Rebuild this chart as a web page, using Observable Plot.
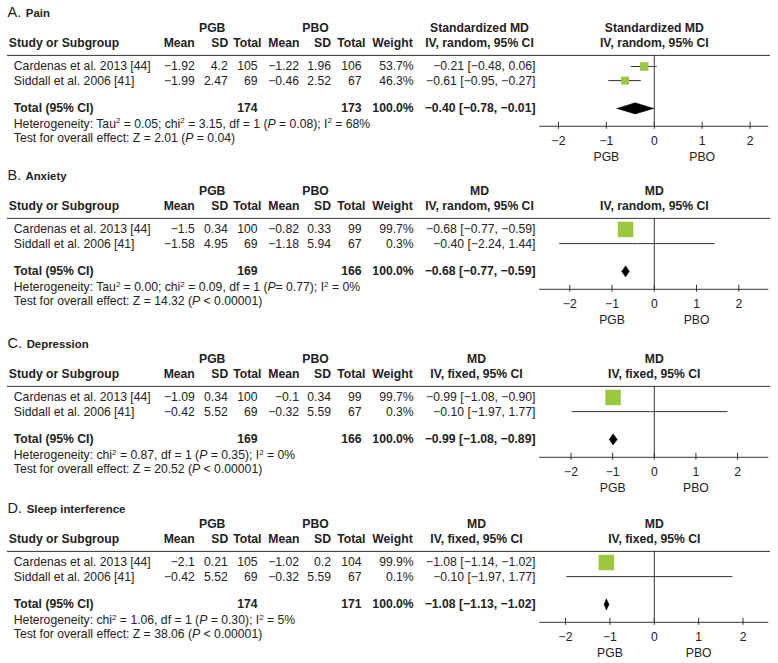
<!DOCTYPE html>
<html><head><meta charset="utf-8">
<script src="https://cdn.jsdelivr.net/npm/d3@7"></script>
<script src="https://cdn.jsdelivr.net/npm/@observablehq/plot@0.6"></script>
<style>
body{margin:0;background:#fff;}
#chart{width:778px;}
#chart svg{display:block;overflow:visible;}
</style></head><body><div id="chart"></div>
<script>
// ---------- data ----------
const titles = ["{A.} Pain", "{B.} Anxiety", "{C.} Depression", "{D.} Sleep interference"];
const measures = ["Standardized MD", "MD", "MD", "MD"];
const methods = ["IV, random, 95% CI", "IV, random, 95% CI", "IV, fixed, 95% CI", "IV, fixed, 95% CI"];
const studies = ["Cardenas et al. 2013 [44]", "Siddall et al. 2006 [41]"];
const pgbMean = [[-1.92, -1.99], [-1.5, -1.58], [-1.09, -0.42], [-2.1, -0.42]];
const pgbSD   = [[4.2, 2.47], [0.34, 4.95], [0.34, 5.52], [0.21, 5.52]];
const pgbN    = [[105, 69], [100, 69], [100, 69], [105, 69]];
const pboMean = [[-1.22, -0.46], [-0.82, -1.18], [-0.1, -0.32], [-1.02, -0.32]];
const pboSD   = [[1.96, 2.52], [0.33, 5.94], [0.34, 5.59], [0.2, 5.59]];
const pboN    = [[106, 67], [99, 67], [99, 67], [104, 67]];
const weights = [[53.7, 46.3], [99.7, 0.3], [99.7, 0.3], [99.9, 0.1]];
const est = [[-0.21, -0.61], [-0.68, -0.40], [-0.99, -0.10], [-1.08, -0.10]];
const lo  = [[-0.48, -0.95], [-0.77, -2.24], [-1.08, -1.97], [-1.14, -1.97]];
const hi  = [[0.06, -0.27], [-0.59, 1.44], [-0.90, 1.77], [-1.02, 1.77]];
const pgbTotal = [174, 169, 169, 174];
const pboTotal = [173, 166, 166, 171];
const totalEst = [-0.40, -0.68, -0.99, -1.08];
const totalLo  = [-0.78, -0.77, -1.08, -1.13];
const totalHi  = [-0.01, -0.59, -0.89, -1.02];
const heterogeneity = [
  "Heterogeneity: Tau^2 = 0.05; chi^2 = 3.15, df = 1 (*P* = 0.08); I^2 = 68%",
  "Heterogeneity: Tau^2 = 0.00; chi^2 = 0.09, df = 1 (*P*= 0.77); I^2 = 0%",
  "Heterogeneity: chi^2 = 0.87, df = 1 (*P* = 0.35); I^2 = 0%",
  "Heterogeneity: chi^2 = 1.06, df = 1 (*P* = 0.30); I^2 = 5%"
];
const overallTest = [
  "Test for overall effect: Z = 2.01 (*P* = 0.04)",
  "Test for overall effect: Z = 14.32 (*P* < 0.00001)",
  "Test for overall effect: Z = 20.52 (*P* < 0.00001)",
  "Test for overall effect: Z = 38.06 (*P* < 0.00001)"
];
const ticks = [-2, -1, 0, 1, 2];
const favours = ["PGB", "PBO"];
const favourAt = [-1, 1];

// ---------- layout ----------
const panelHeights = [163.4, 167.3, 165.3, 167];
const axisHalf = [2.39, 2.71, 2.75, 2.58];
const squareMax = [6.55, 8.75, 8.75, 8.75];
const ROW = {title: 13.3, group: 27.3, col: 42.1, line: 54.9, r1: 66, r2: 80.1, total: 107.9,
             het: 123.6, test: 137.3, axis: 125.8, ticks: 141, fav: 156.2};
const COL = {studyHead: 8.3, study: 13.3, pgbMean: 194.3, pgbSD: 227.2, pgbN: 257, pgbNHead: 261,
             pboMean: 298.5, pboSD: 330.5, pboN: 361, pboNHead: 365, weight: 413.2, ci: 535,
             ciHead: [479, 479, 476, 476], pgbGroup: 211.7, pboGroup: 315};
const INK = "#222", LINE = "#333", GREEN = "#9BC83C";

const num = v => String(v).replace("-", "\u2212");
const f2 = v => v.toFixed(2).replace("-", "\u2212");
const ciText = (e, l, h) => `${f2(e)} [${f2(l)}, ${f2(h)}]`;

function txt(data, y, dx, anchor, extra = {}) {
  return Plot.text(data, {text: d => d, y: () => y, frameAnchor: "left", dx, textAnchor: anchor, fill: INK, ...extra});
}

function rich(svg) {
  svg.querySelectorAll("text").forEach(t => {
    const s = t.textContent;
    if (!/[\^*{]/.test(s)) return;
    t.textContent = "";
    const parts = s.split(/(\^2|\*[^*]+\*|\{[^}]+\})/).filter(p => p !== "");
    let pending = 0, afterTitle = false;
    for (const p of parts) {
      const ts = document.createElementNS("http://www.w3.org/2000/svg", "tspan");
      if (p === "^2") {
        ts.textContent = "2"; ts.setAttribute("font-size", "8"); ts.setAttribute("dy", "-4.5"); pending = 4.5;
      } else {
        if (p.startsWith("*")) { ts.textContent = p.slice(1, -1); ts.setAttribute("font-style", "italic"); }
        else if (p.startsWith("{")) { ts.textContent = p.slice(1, -1); ts.setAttribute("font-size", "14.5"); ts.setAttribute("font-weight", "normal"); afterTitle = true; }
        else { ts.textContent = p; if (afterTitle) { ts.setAttribute("dx", "1.5"); afterTitle = false; } }
        if (pending) { ts.setAttribute("dy", pending); pending = 0; }
      }
      t.appendChild(ts);
    }
  });
}

const chart = document.getElementById("chart");
titles.forEach((title, i) => {
  const H = panelHeights[i];
  const rows = studies.map((s, j) => ({
    study: s, y: j === 0 ? ROW.r1 : ROW.r2,
    pm: num(pgbMean[i][j]), ps: num(pgbSD[i][j]), pn: num(pgbN[i][j]),
    bm: num(pboMean[i][j]), bs: num(pboSD[i][j]), bn: num(pboN[i][j]),
    w: weights[i][j], wt: weights[i][j].toFixed(1) + "%",
    est: est[i][j], lo: lo[i][j], hi: hi[i][j], ci: ciText(est[i][j], lo[i][j], hi[i][j])
  }));
  const dh = 5.6;
  const diamond = [
    {x: totalLo[i], y: ROW.total}, {x: totalEst[i], y: ROW.total - dh},
    {x: totalHi[i], y: ROW.total}, {x: totalEst[i], y: ROW.total + dh}, {x: totalLo[i], y: ROW.total}
  ];
  const rowText = (key, dx, anchor) => Plot.text(rows, {text: key, y: "y", frameAnchor: "left", dx, textAnchor: anchor, fill: INK});
  const svg = Plot.plot({
    width: 778, height: H,
    marginLeft: 0, marginRight: 0, marginTop: 0, marginBottom: 0,
    style: {fontFamily: "'Liberation Sans', Arial, sans-serif", fontSize: "12.2px", color: INK, background: "#fff"},
    x: {domain: [-axisHalf[i], axisHalf[i]], range: [539.3, 768.3], axis: null},
    y: {domain: [0, H], range: [0, H], axis: null},
    r: {domain: [0, 100], range: [0, squareMax[i]]},
    marks: [
      // title & headers
      txt([title], ROW.title, 7, "start", {fontWeight: "bold", fontSize: 11.4}),
      txt(["PGB"], ROW.group, COL.pgbGroup, "middle", {fontWeight: "bold"}),
      txt(["PBO"], ROW.group, COL.pboGroup, "middle", {fontWeight: "bold"}),
      txt([measures[i]], ROW.group, COL.ciHead[i], "middle", {fontWeight: "bold"}),
      txt([methods[i]], ROW.col, COL.ciHead[i], "middle", {fontWeight: "bold"}),
      txt(["Study or Subgroup"], ROW.col, COL.studyHead, "start", {fontWeight: "bold"}),
      txt(["Mean"], ROW.col, COL.pgbMean, "end", {fontWeight: "bold"}),
      txt(["SD"], ROW.col, COL.pgbSD + 0.5, "end", {fontWeight: "bold"}),
      txt(["Total"], ROW.col, COL.pgbNHead, "end", {fontWeight: "bold"}),
      txt(["Mean"], ROW.col, COL.pboMean + 0.5, "end", {fontWeight: "bold"}),
      txt(["SD"], ROW.col, COL.pboSD, "end", {fontWeight: "bold"}),
      txt(["Total"], ROW.col, COL.pboNHead, "end", {fontWeight: "bold"}),
      txt(["Weight"], ROW.col, COL.weight - 1, "end", {fontWeight: "bold"}),
      Plot.text([measures[i], methods[i]], {text: d => d, x: () => 0, y: (d, k) => k === 0 ? ROW.group : ROW.col, fontWeight: "bold", fill: INK}),
      Plot.ruleY([ROW.line], {y: d => d, insetLeft: 7, insetRight: 8, stroke: LINE, strokeWidth: 1}),
      // study rows
      rowText("study", COL.study, "start"),
      rowText("pm", COL.pgbMean, "end"),
      rowText("ps", COL.pgbSD, "end"),
      rowText("pn", COL.pgbN, "end"),
      rowText("bm", COL.pboMean, "end"),
      rowText("bs", COL.pboSD, "end"),
      rowText("bn", COL.pboN, "end"),
      rowText("wt", COL.weight, "end"),
      rowText("ci", COL.ci, "end"),
      // totals
      txt(["Total (95% CI)"], ROW.total, COL.study, "start", {fontWeight: "bold"}),
      txt([num(pgbTotal[i])], ROW.total, COL.pgbN, "end", {fontWeight: "bold"}),
      txt([num(pboTotal[i])], ROW.total, COL.pboN, "end", {fontWeight: "bold"}),
      txt(["100.0%"], ROW.total, COL.weight, "end", {fontWeight: "bold"}),
      txt([ciText(totalEst[i], totalLo[i], totalHi[i])], ROW.total, COL.ci, "end", {fontWeight: "bold"}),
      txt([heterogeneity[i]], ROW.het, COL.study, "start"),
      txt([overallTest[i]], ROW.test, COL.study, "start"),
      // forest
      Plot.ruleX([0], {x: d => d, y1: () => ROW.line, y2: () => ROW.axis, stroke: LINE}),
      Plot.ruleY([ROW.axis], {y: d => d, x1: () => -axisHalf[i], x2: () => axisHalf[i], stroke: LINE}),
      Plot.ruleX(ticks, {x: d => d, y1: () => ROW.axis - 4, y2: () => ROW.axis + 3, stroke: LINE}),
      Plot.text(ticks, {x: d => d, y: () => ROW.ticks, text: d => num(d), fill: INK}),
      Plot.text(favours, {x: (d, k) => favourAt[k], y: () => ROW.fav, text: d => d, fill: INK}),
      Plot.ruleY(rows, {y: "y", x1: "lo", x2: "hi", stroke: LINE}),
      Plot.dot(rows, {x: "est", y: "y", r: "w", symbol: "square", fill: GREEN, stroke: "none"}),
      Plot.line(diamond, {x: "x", y: "y", fill: "#000", stroke: "#000", strokeWidth: 0.5})
    ]
  });
  rich(svg);
  chart.appendChild(svg);
});
</script></body></html>
